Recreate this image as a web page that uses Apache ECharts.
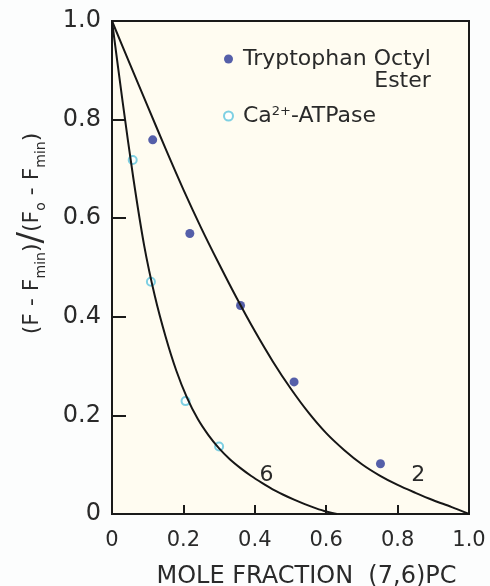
<!DOCTYPE html>
<html>
<head>
<meta charset="utf-8">
<script src="https://cdn.jsdelivr.net/npm/echarts@6/dist/echarts.min.js"></script>
<style>
    html, body { margin: 0; padding: 0; background: #fcfdfd; }
    #chart { width: 490px; height: 586px; }
</style>
</head>
<body>
<div id="chart"></div>
<script>
// 数据点
var trpX = [0.114, 0.218, 0.36, 0.51, 0.752];
var trpY = [0.759, 0.569, 0.423, 0.268, 0.102];
var atpX = [0.058, 0.109, 0.206, 0.30];
var atpY = [0.718, 0.471, 0.229, 0.137];
// 理论曲线 (n = 2 / n = 6)
var curve2X = [0, 0.05, 0.1, 0.15, 0.2, 0.25, 0.3, 0.35, 0.4, 0.45, 0.5, 0.55, 0.6, 0.65, 0.7, 0.75, 0.8, 0.85, 0.9, 0.95, 1];
var curve2Y = [1, 0.913, 0.827, 0.741, 0.658, 0.58, 0.507, 0.437, 0.371, 0.31, 0.255, 0.206, 0.164, 0.13, 0.101, 0.078, 0.059, 0.043, 0.028, 0.0145, 0];
var curve6X = [0, 0.03, 0.06, 0.09, 0.12, 0.15, 0.18, 0.21, 0.24, 0.27, 0.30, 0.33, 0.36, 0.39, 0.42, 0.45, 0.48, 0.51, 0.54, 0.57, 0.60, 0.63];
var curve6Y = [1, 0.835, 0.68, 0.545, 0.442, 0.36, 0.291, 0.236, 0.193, 0.16, 0.133, 0.111, 0.093, 0.077, 0.063, 0.05, 0.039, 0.029, 0.02, 0.012, 0.005, 0];
var xTicks = [0, 0.2, 0.4, 0.6, 0.8, 1.0];
var yTicks = [0, 0.2, 0.4, 0.6, 0.8, 1.0];

function pairs(xs, ys) {
    return xs.map(function (x, i) { return [x, ys[i]]; });
}

(function () {
    var myChart = echarts.init(document.getElementById('chart'));
    var textColor = '#2a2a2a';
    var font = 'DejaVu Sans';
    var option = {
        backgroundColor: '#fcfdfd',
        animation: false,
        grid: {
            left: 112,
            right: 21,
            top: 21,
            bottom: 72,
            outerBoundsMode: 'none',
            show: true,
            backgroundColor: '#fffcf1',
            borderColor: '#1a1a1a',
            borderWidth: 2
        },
        legend: {
            orient: 'vertical',
            left: 218,
            top: 21,
            itemWidth: 19,
            itemHeight: 9,
            itemGap: 13,
            data: [
                { name: 'Tryptophan Octyl Ester', icon: 'circle' },
                { name: 'Ca2+-ATPase', icon: 'emptyCircle' }
            ],
            textStyle: {
                fontFamily: font,
                fontSize: 22,
                lineHeight: 22,
                color: textColor,
                rich: {
                    a: { fontFamily: font, fontSize: 22, lineHeight: 22, color: textColor },
                    b: { fontFamily: font, fontSize: 22, lineHeight: 22, color: textColor, align: 'right' },
                    sup: { fontFamily: font, fontSize: 13, lineHeight: 22, color: textColor, verticalAlign: 'top' }
                }
            },
            formatter: function (name) {
                if (name === 'Ca2+-ATPase') {
                    return '{a|Ca}{sup|2+}{a|-ATPase}';
                }
                return '\n{a|Tryptophan Octyl}\n{b|Ester}';
            }
        },
        xAxis: {
            type: 'value',
            min: 0,
            max: 1,
            interval: 0.2,
            name: 'MOLE FRACTION  (7,6)PC',
            nameLocation: 'middle',
            nameGap: 51,
            nameTextStyle: {
                fontFamily: font,
                fontSize: 24,
                color: textColor,
                padding: [0, 0, 0, 32]
            },
            axisLine: { lineStyle: { color: '#1a1a1a', width: 2 } },
            axisTick: { inside: true, length: 9, lineStyle: { color: '#1a1a1a', width: 2 } },
            splitLine: { show: false },
            axisLabel: {
                fontFamily: font,
                fontSize: 21,
                color: textColor,
                margin: 16,
                formatter: function (v) { return v === 0 ? '0' : v.toFixed(1); }
            }
        },
        yAxis: {
            type: 'value',
            min: 0,
            max: 1,
            interval: 0.2,
            name: '{sp| }{m|(F - F}{s|min}{m|)}{sl|/}{m|(F}{s|o}{m| - F}{s|min}{m|)}',
            nameLocation: 'middle',
            nameGap: 64,
            nameRotate: 90,
            nameTextStyle: {
                rich: {
                    sp: { width: 68, fontSize: 10 },
                    m: { fontFamily: font, fontSize: 22, lineHeight: 32, color: textColor },
                    s: { fontFamily: font, fontSize: 14, lineHeight: 14, color: textColor, verticalAlign: 'bottom' },
                    sl: { fontFamily: font, fontSize: 34, lineHeight: 32, color: textColor }
                }
            },
            axisLine: { lineStyle: { color: '#1a1a1a', width: 2 } },
            axisTick: { inside: true, length: 14, lineStyle: { color: '#1a1a1a', width: 2 } },
            splitLine: { show: false },
            axisLabel: {
                fontFamily: font,
                fontSize: 24,
                color: textColor,
                margin: 11,
                formatter: function (v) { return v === 0 ? '0' : v.toFixed(1); }
            }
        },
        series: [
            {
                name: 'n2',
                type: 'line',
                data: pairs(curve2X, curve2Y),
                showSymbol: false,
                smooth: 0.3,
                lineStyle: { color: '#161616', width: 2 },
                markPoint: {
                    symbol: 'circle',
                    symbolSize: 0,
                    label: { show: true, position: 'inside', fontFamily: font, fontSize: 22, color: textColor, formatter: '2' },
                    data: [{ coord: [0.858, 0.079] }]
                }
            },
            {
                name: 'n6',
                type: 'line',
                data: pairs(curve6X, curve6Y),
                showSymbol: false,
                smooth: 0.3,
                lineStyle: { color: '#161616', width: 2 },
                markPoint: {
                    symbol: 'circle',
                    symbolSize: 0,
                    label: { show: true, position: 'inside', fontFamily: font, fontSize: 22, color: textColor, formatter: '6' },
                    data: [{ coord: [0.433, 0.079] }]
                }
            },
            {
                name: 'Tryptophan Octyl Ester',
                type: 'scatter',
                data: pairs(trpX, trpY),
                symbol: 'circle',
                symbolSize: 9,
                itemStyle: { color: '#2b3797' }
            },
            {
                name: 'Ca2+-ATPase',
                type: 'scatter',
                data: pairs(atpX, atpY),
                symbol: 'emptyCircle',
                symbolSize: 8,
                itemStyle: { color: '#5ec4dd', borderColor: '#5ec4dd', borderWidth: 2 }
            }
        ]
    };
    myChart.setOption(option);
})();
</script>
</body>
</html>
